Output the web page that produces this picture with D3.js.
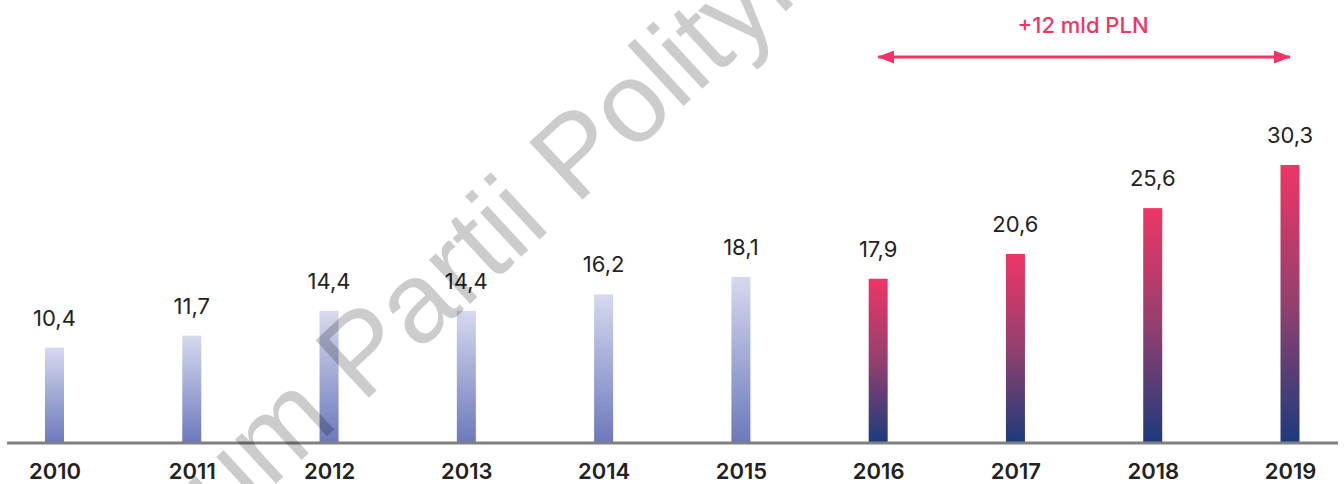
<!DOCTYPE html>
<html>
<head>
<meta charset="utf-8">
<script src="https://cdn.jsdelivr.net/npm/d3@7"></script>
<style>
  body { margin: 0; background: #fff; }
  svg { display: block; font-family: Inter, "Noto Sans", sans-serif; }
</style>
</head>
<body>
<svg id="graph" width="1344" height="484"></svg>
<script>
// données
let annees = ["2010", "2011", "2012", "2013", "2014", "2015", "2016", "2017", "2018", "2019"];
let valeurs = [10.4, 11.7, 14.4, 14.4, 16.2, 18.1, 17.9, 20.6, 25.6, 30.3];
let anneesHausse = ["2016", "2017", "2018", "2019"]; // barres en rose
let texteHausse = "+12 mld PLN";
let filigrane = ["Forum", "Partii Polityki"];

let data = annees.map((a, i) => ({ annee: a, valeur: valeurs[i] }));

let svg = d3.select("#graph");
let base = 443;

let x = d3.scalePoint().domain(annees).range([54.5, 1290]);
let y = d3.scaleLinear().domain([0, 30.3]).range([base, 165]);
let largeur_barre = 19;

// dégradés
let defs = svg.append("defs");
let g1 = defs.append("linearGradient").attr("id", "grad_bleu")
    .attr("x1", 0).attr("y1", 0).attr("x2", 0).attr("y2", 1);
g1.append("stop").attr("offset", 0).attr("stop-color", "#d6d9ee");
g1.append("stop").attr("offset", 1).attr("stop-color", "#6b79bc");
let g2 = defs.append("linearGradient").attr("id", "grad_rose")
    .attr("x1", 0).attr("y1", 0).attr("x2", 0).attr("y2", 1);
g2.append("stop").attr("offset", 0).attr("stop-color", "#ef3566");
g2.append("stop").attr("offset", 0.5).attr("stop-color", "#93406f");
g2.append("stop").attr("offset", 1).attr("stop-color", "#1c3b7c");

let marker = (id, orient) => defs.append("marker")
    .attr("id", id)
    .attr("viewBox", "0 0 17 13")
    .attr("refX", 16).attr("refY", 6.5)
    .attr("markerWidth", 17).attr("markerHeight", 13)
    .attr("markerUnits", "userSpaceOnUse")
    .attr("orient", orient)
    .append("path").attr("d", "M0,0 L17,6.5 L0,13 Z").attr("fill", "#ef3566");
marker("fleche", "auto");
marker("fleche_debut", "auto-start-reverse");

// barres
svg.selectAll(".barre")
    .data(data)
    .join("rect")
    .attr("class", "barre")
    .attr("x", d => x(d.annee) - largeur_barre / 2)
    .attr("y", d => y(d.valeur))
    .attr("width", largeur_barre)
    .attr("height", d => base - y(d.valeur))
    .attr("fill", d => anneesHausse.includes(d.annee) ? "url(#grad_rose)" : "url(#grad_bleu)");

// axe horizontal
let axe = svg.append("g").attr("transform", `translate(0,${base})`)
    .call(d3.axisBottom(x).tickSize(0));
axe.select(".domain").remove();
axe.append("line")
    .attr("x1", 7).attr("x2", 1338)
    .attr("stroke", "#808080").attr("stroke-width", 3);
axe.selectAll(".tick text")
    .attr("y", 36).attr("dy", 0)
    .attr("font-size", 22).attr("font-weight", 600)
    .attr("fill", "#222").attr("font-family", "Inter, sans-serif");

// étiquettes des valeurs
svg.selectAll(".etiquette")
    .data(data)
    .join("text")
    .attr("class", "etiquette")
    .attr("x", d => x(d.annee))
    .attr("y", d => y(d.valeur) - 22)
    .attr("text-anchor", "middle")
    .attr("font-size", 22)
    .attr("fill", "#222")
    .text(d => d3.format(".1f")(d.valeur).replace(".", ","));

// flèche de la hausse
let xa = x(anneesHausse[0]), xb = x(anneesHausse[anneesHausse.length - 1]);
svg.append("line")
    .attr("x1", xa).attr("x2", xb)
    .attr("y1", 57).attr("y2", 57)
    .attr("stroke", "#ef3566").attr("stroke-width", 3)
    .attr("marker-start", "url(#fleche_debut)")
    .attr("marker-end", "url(#fleche)");
svg.append("text")
    .attr("x", (xa + xb) / 2 - 1).attr("y", 33)
    .attr("text-anchor", "middle")
    .attr("font-size", 22).attr("font-weight", 500)
    .attr("fill", "#ef3566")
    .text(texteHausse);

// filigrane
let wm = svg.append("g")
    .attr("transform", "translate(362,404) rotate(-42.8)")
    .attr("fill", "#000").attr("fill-opacity", 0.2)
    .attr("font-size", 114).attr("font-family", "'Liberation Sans', sans-serif");
wm.append("text").attr("x", -30).attr("text-anchor", "end").text(filigrane[0]);
wm.append("text").attr("x", 0).text(filigrane[1]);
</script>
</body>
</html>
